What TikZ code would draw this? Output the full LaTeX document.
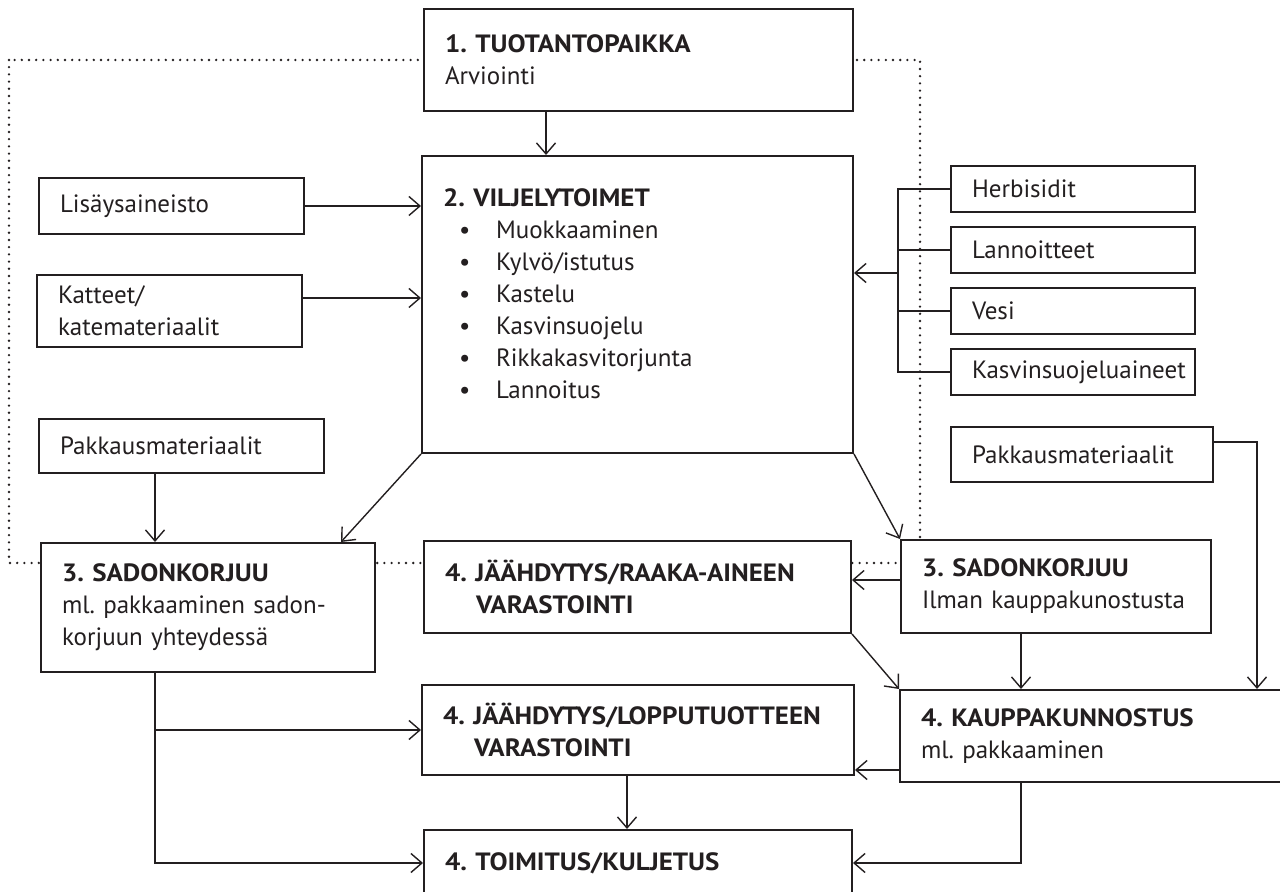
\documentclass[tikz,border=0pt]{standalone}
\usepackage{fontspec}
\setmainfont{PT Sans}[BoldFeatures={FakeStretch=1.08}]
\frenchspacing
\usepackage{tikz}
\usetikzlibrary{arrows.meta}
\definecolor{ink}{HTML}{231F20}

\begin{document}
\begin{tikzpicture}[x=0.5pt,y=-0.5pt,color=ink,line width=0.7pt,
  >={Straight Barb[length=5.5pt,width=9.5pt]},node distance=30.5pt,
  main node/.style={rectangle,draw,fill=white,line width=1pt,anchor=north west,
    align=left,inner xsep=10.5pt,inner ysep=2pt,font=\fontsize{12.5}{16}\selectfont},
  input node/.style={main node},
  frame line/.style={line width=1.3pt,line cap=round,dash pattern=on 0pt off 3.6pt}]
  \useasboundingbox (0,0) rectangle (1280,892);
  \clip (0,0) rectangle (1280,892);

  % dotted frame round the field steps
  \draw[frame line] (9,60) rectangle (920,563);

  \node[main node,text width=193.5pt,minimum height=51pt] (tuot) at (423,8)
    {\textbf{1. TUOTANTOPAIKKA}\\Arviointi};
  \node[main node,text width=194.5pt,minimum height=148.5pt,text depth=107pt] (vilj) at (421,155)
    {\textbf{2. VILJELYTOIMET}\\
     \hspace*{8pt}\makebox[18.5pt][l]{\textbullet}Muokkaaminen\\
     \hspace*{8pt}\makebox[18.5pt][l]{\textbullet}Kylvö/istutus\\
     \hspace*{8pt}\makebox[18.5pt][l]{\textbullet}Kastelu\\
     \hspace*{8pt}\makebox[18.5pt][l]{\textbullet}Kasvinsuojelu\\
     \hspace*{8pt}\makebox[18.5pt][l]{\textbullet}Rikkakasvitorjunta\\
     \hspace*{8pt}\makebox[18.5pt][l]{\textbullet}Lannoitus};

  \node[input node,text width=111.5pt,minimum height=28pt] (lisa) at (38,177) {Lisäysaineisto};
  \node[input node,text width=111.5pt,minimum height=36pt] (katt) at (36,274) {Katteet/\\katemateriaalit};
  \node[input node,text width=121.5pt,minimum height=27pt] (pakk1) at (38,418) {Pakkausmateriaalit};

  \node[input node,text width=101pt,minimum height=23pt] (herb) at (950,165) {Herbisidit};
  \node[input node,text width=101pt,minimum height=23pt] (lann) [below of=herb] {Lannoitteet};
  \node[input node,text width=101pt,minimum height=23pt] (vesi) [below of=lann] {Vesi};
  \node[input node,text width=101pt,minimum height=23pt] (kasv) [below of=vesi] {\mbox{Kasvinsuojeluaineet}};
  \node[input node,text width=110pt,minimum height=27.5pt] (pakk2) at (950,426) {Pakkausmateriaalit};

  \node[main node,text width=146pt,minimum height=64.5pt] (sad1) at (40,542)
    {\textbf{3. SADONKORJUU}\\ml. pakkaaminen sadon-\\korjuun yhteydessä};
  \node[main node,text width=192.5pt,minimum height=46pt] (jaa1) at (423,540)
    {\textbf{4. JÄÄHDYTYS/RAAKA-AINEEN}\\\hspace*{15.5pt}\textbf{VARASTOINTI}};
  \node[main node,text width=134pt,minimum height=46.5pt] (sad2) at (900,539)
    {\textbf{3. SADONKORJUU}\\Ilman kauppakunostusta};
  \node[main node,text width=195pt,minimum height=45pt] (jaa2) at (421,684)
    {\textbf{4. JÄÄHDYTYS/LOPPUTUOTTEEN}\\\hspace*{15.5pt}\textbf{VARASTOINTI}};
  \node[main node,text width=189pt,minimum height=46pt] (kaup) at (899,689)
    {\textbf{4. KAUPPAKUNNOSTUS}\\ml. pakkaaminen};
  \node[main node,text width=193pt,minimum height=33pt] (toim) at (423,829)
    {\textbf{4. TOIMITUS/KULJETUS}};

  \draw[->] (tuot.south -| 546,0) -- (vilj.north -| 546,0);
  \draw[->] (lisa.east) -- (lisa.east -| vilj.west);
  \draw[->] (katt.east |- 0,298) -- (vilj.west |- 0,298);

  \coordinate (brk) at (898,273);
  \draw (herb.west) -| (brk |- kasv.west) -- (kasv.west);
  \draw (lann.west) -- (lann.west -| brk);
  \draw (vesi.west) -- (vesi.west -| brk);
  \draw[->] (brk) -- (brk -| vilj.east);

  \draw[->] (pakk1.south -| 155,0) -- (sad1.north -| 155,0);
  \draw[->] (vilj.south west) -- (sad1.north -| 341,0);
  \draw[->] (vilj.south east) -- (sad2.north west);
  \draw[->] (sad2.west |- 0,580) -- (jaa1.east |- 0,580);
  \draw[->] (jaa1.south east) -- (kaup.north west);
  \draw[->] (sad2.south -| 1021,0) -- (kaup.north -| 1021,0);
  \draw[->] (pakk2.east |- 0,442) -| (kaup.north -| 1257,0);
  \draw[->] (kaup.west |- 0,770) -- (jaa2.east |- 0,770);

  \draw[->] (sad1.south -| 155,0) |- (toim.west);
  \draw[->] (jaa2.west -| 155,0) -- (jaa2.west);
  \draw[->] (jaa2.south -| 627,0) -- (toim.north -| 627,0);
  \draw[->] (kaup.south -| 1021,0) |- (toim.east);
\end{tikzpicture}
\end{document}
